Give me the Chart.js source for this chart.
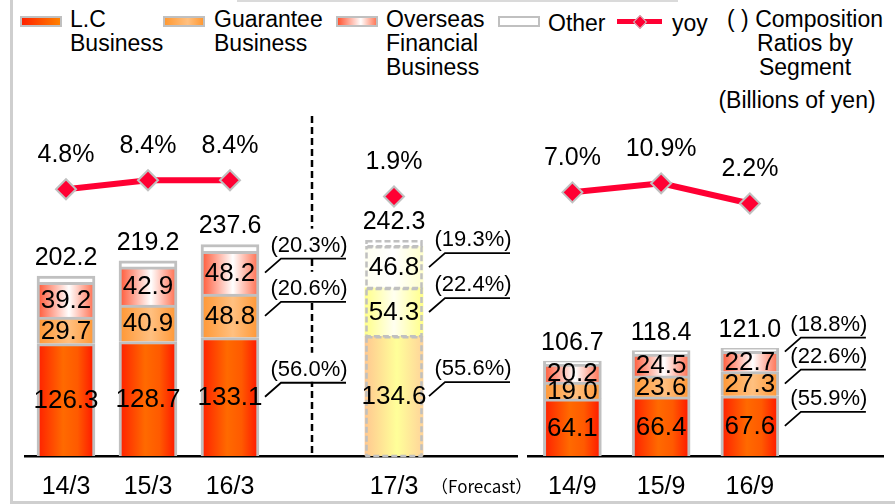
<!DOCTYPE html>
<html>
<head>
<meta charset="utf-8">
<script src="https://cdn.jsdelivr.net/npm/chart.js@4.4.1/dist/chart.umd.min.js"></script>
<style>
  html, body { margin: 0; padding: 0; background: #fff; }
  body { width: 895px; height: 504px; position: relative; overflow: hidden;
         font-family: "Liberation Sans", Arial, sans-serif; color: #000; }
  canvas { position: absolute; left: 0; top: 0; }
  .frame { position: absolute; background: #cfcfcf; }
  .legend { position: absolute; font-size: 23px; line-height: 24px; white-space: nowrap; }
  .swatch { position: absolute; width: 38px; height: 7px; border: 2px solid #c0c0c0; }
</style>
</head>
<body>
<div class="swatch" style="left:20px;top:16px;background:linear-gradient(to right,#ff2200,#ff8000)"></div>
<div class="legend" style="left:70px;top:7px">L.C<br>Business</div>
<div class="swatch" style="left:163px;top:16px;background:linear-gradient(to right,#ff9933,#ffc080 60%,#ff9933)"></div>
<div class="legend" style="left:214px;top:7px">Guarantee<br>Business</div>
<div class="swatch" style="left:336px;top:16px;background:linear-gradient(to right,#ff5533,#fff 60%,#ff7a5a)"></div>
<div class="legend" style="left:386px;top:7px">Overseas<br>Financial<br>Business</div>
<div class="swatch" style="left:498px;top:16px;background:#fff"></div>
<div class="legend" style="left:548px;top:11px">Other</div>
<div style="position:absolute;left:617px;top:19px;width:45px;height:5px;background:#ff0033"></div>
<div style="position:absolute;left:635px;top:17px;width:8px;height:8px;background:#ff0033;border:1px solid #c8c8c8;transform:rotate(45deg)"></div>
<div class="legend" style="left:672px;top:11px">yoy</div>
<div class="legend" style="left:720px;top:7px;width:170px;text-align:center">( ) Composition<br>Ratios by<br>Segment</div>
<div class="legend" style="left:712px;top:88px;width:170px;text-align:center">(Billions of yen)</div>

<canvas id="fyChart" width="895" height="521"></canvas>
<canvas id="halfChart" width="895" height="521"></canvas>

<div class="frame" style="left:10px;top:0;width:3px;height:504px"></div>
<div class="frame" style="left:10px;top:501px;width:885px;height:3px"></div>
<div class="frame" style="left:237px;top:0;width:441px;height:2px;background:#dadada"></div>

<script>
// Fiscal years (March) — 17/3 is the forecast
const fyLabels = ["14/3", "15/3", "16/3", "17/3"];
const fyLC = [126.3, 128.7, 133.1, 134.6];
const fyGuarantee = [29.7, 40.9, 48.8, 54.3];
const fyOverseas = [39.2, 42.9, 48.2, 46.8];
const fyOther = [7.0, 6.7, 7.5, 6.6];
const fyTotal = [202.2, 219.2, 237.6, 242.3];
const fyYoy = [4.8, 8.4, 8.4, 1.9];
const fyRatios16 = [56.0, 20.6, 20.3]; // L.C, Guarantee, Overseas
const fyRatios17 = [55.6, 22.4, 19.3];
const forecastNote = "（Forecast）";

// First halves (September)
const halfLabels = ["14/9", "15/9", "16/9"];
const halfLC = [64.1, 66.4, 67.6];
const halfGuarantee = [19.0, 23.6, 27.3];
const halfOverseas = [20.2, 24.5, 22.7];
const halfOther = [3.4, 3.9, 3.4];
const halfTotal = [106.7, 118.4, 121.0];
const halfYoy = [7.0, 10.9, 2.2];
const halfRatios16 = [55.9, 22.6, 18.8];

const FONT = '"Liberation Sans", Arial, "Noto Sans CJK JP", sans-serif';
const NOTE_FONT = '"Noto Sans CJK JP", sans-serif';
const BAR_W = 58;
const BORDER_GRAY = "#c0c0c0";
const YOY_RED = "#ff0033";

const fills = {
  lc: [[0, "#ff1e00"], [0.45, "#ff6a00"], [0.7, "#ff5a00"], [1, "#ff1400"]],
  guarantee: [[0, "#ff9633"], [0.55, "#ffc080"], [1, "#ff9633"]],
  overseas: [[0, "#ff5533"], [0.55, "#ffffff"], [1, "#ff6a4a"]],
  other: [[0, "#ffffff"], [1, "#ffffff"]]
};
const forecastFills = {
  lc: [[0, "#ffc890"], [0.55, "#ffff99"], [1, "#ffd49a"]],
  guarantee: [[0, "#ffff8a"], [0.5, "#fffff0"], [1, "#ffff8a"]],
  overseas: [[0, "#fffff0"], [0.5, "#ffffff"], [1, "#ffffcc"]],
  other: [[0, "#ffffff"], [1, "#ffffff"]]
};

// 16/3, gap, 17/3, slot for the forecast note
const fySlots = (v) => [v[0], v[1], v[2], null, v[3], null];

function gradientAt(chart, index, stops) {
  const scale = chart.scales.x;
  if (!scale || typeof index !== "number") return stops[1][1];
  const x = scale.getPixelForValue(index);
  if (!Number.isFinite(x)) return stops[1][1];
  const g = chart.ctx.createLinearGradient(x - BAR_W / 2, 0, x + BAR_W / 2, 0);
  stops.forEach(([o, c]) => g.addColorStop(o, c));
  return g;
}

function barSet(label, data, key, forecastIdx) {
  return {
    label,
    data,
    stack: "total",
    order: 1,
    barThickness: BAR_W,
    backgroundColor: (c) =>
      gradientAt(c.chart, c.dataIndex, c.dataIndex === forecastIdx ? forecastFills[key] : fills[key]),
    borderColor: BORDER_GRAY,
    borderWidth: (c) => (c.dataIndex === forecastIdx ? 0 : 3),
    borderSkipped: "start"
  };
}

function yoySet(data) {
  return {
    type: "line",
    label: "yoy",
    data,
    yAxisID: "y2",
    order: 0,
    borderColor: YOY_RED,
    borderWidth: 6,
    pointStyle: "rectRot",
    pointRadius: 10,
    pointBackgroundColor: YOY_RED,
    pointBorderColor: BORDER_GRAY,
    pointBorderWidth: 2,
    spanGaps: false
  };
}

function drawText(ctx, str, x, y, size, family = FONT) {
  ctx.font = `${size}px ${family}`;
  ctx.fillText(str, x, y);
}

function panelPlugin(cfg) {
  return {
    id: "panel",
    beforeDatasetsDraw(chart) {
      if (cfg.dividerSlot == null) return;
      const { ctx, chartArea } = chart;
      const x = chart.scales.x.getPixelForValue(cfg.dividerSlot);
      ctx.save();
      ctx.strokeStyle = "#000";
      ctx.lineWidth = 2.5;
      ctx.setLineDash([7, 4]);
      ctx.beginPath();
      ctx.moveTo(x, 116);
      ctx.lineTo(x, chartArea.bottom);
      ctx.stroke();
      ctx.restore();
    },
    afterDatasetsDraw(chart) {
      const ctx = chart.ctx;
      ctx.save();

      // dashed outline for the forecast bar
      if (cfg.forecastIdx >= 0) {
        ctx.strokeStyle = BORDER_GRAY;
        ctx.lineWidth = 2.5;
        ctx.setLineDash([6, 3]);
        for (let d = 0; d < 4; d++) {
          const el = chart.getDatasetMeta(d).data[cfg.forecastIdx];
          ctx.strokeRect(el.x - el.width / 2 + 1.5, el.y + 1, el.width - 3, el.base - el.y - 1);
        }
        ctx.setLineDash([]);
      }

      ctx.fillStyle = "#000";
      ctx.textAlign = "center";
      ctx.textBaseline = "middle";

      // segment values
      for (let d = 0; d < 3; d++) {
        const ds = chart.data.datasets[d];
        chart.getDatasetMeta(d).data.forEach((el, i) => {
          if (ds.data[i] == null) return;
          drawText(ctx, ds.data[i].toFixed(1), el.x, (el.y + el.base) / 2 + 1, 26);
        });
      }

      // totals above the stack
      const topMeta = chart.getDatasetMeta(3).data;
      cfg.totals.forEach((t, i) => {
        if (t == null) return;
        drawText(ctx, t.toFixed(1), topMeta[i].x, topMeta[i].y - 18, 25);
      });

      // yoy labels
      const yoyDs = chart.data.datasets[4];
      chart.getDatasetMeta(4).data.forEach((pt, i) => {
        if (yoyDs.data[i] == null) return;
        drawText(ctx, yoyDs.data[i].toFixed(1) + "%", pt.x, pt.y - 34, 25);
      });

      // composition ratio callouts
      cfg.callouts.forEach(({ slot, ratios }) => {
        const els = [0, 1, 2].map((d) => chart.getDatasetMeta(d).data[slot]);
        const right = els[0].x + els[0].width / 2;
        const ys = els.map((el) => (el.y + el.base) / 2);
        for (let k = 1; k < ys.length; k++) {
          if (ys[k - 1] - ys[k] < 32) ys[k] = ys[k - 1] - 32;
        }
        ys.forEach((y, k) => {
          const hy = y - 14;
          ctx.fillStyle = "#fff";
          ctx.fillRect(right + 9, hy - 30, 84, 29);
          ctx.strokeStyle = "#000";
          ctx.lineWidth = 1.8;
          ctx.beginPath();
          ctx.moveTo(right + 6, y);
          ctx.lineTo(right + 22, hy);
          ctx.lineTo(right + 87, hy);
          ctx.stroke();
          ctx.fillStyle = "#000";
          drawText(ctx, `(${ratios[k].toFixed(1)}%)`, right + 50, hy - 13, 22);
        });
      });

      ctx.restore();
    },
    afterDraw(chart) {
      if (cfg.noteSlot == null) return;
      // the forecast note sits beside 17/3, a little past the end of the axis
      const ctx = chart.ctx;
      const x = chart.scales.x.getPixelForValue(cfg.noteSlot) - 45;
      ctx.save();
      ctx.fillStyle = "#000";
      ctx.textAlign = "left";
      ctx.textBaseline = "middle";
      drawText(ctx, forecastNote, x, chart.chartArea.bottom + 31, 17, NOTE_FONT);
      ctx.restore();
    }
  };
}

function xAxis() {
  return {
    stacked: true,
    grid: { display: false, drawTicks: false },
    border: { display: true, color: "#000", width: 2.5 },
    ticks: {
      color: "#000",
      font: { family: FONT, size: 25 },
      padding: 16,
      autoSkip: false,
      maxRotation: 0
    }
  };
}

const common = {
  responsive: false,
  animation: false,
  events: [],
  plugins: { legend: { display: false }, tooltip: { enabled: false } }
};

new Chart(document.getElementById("fyChart"), {
  type: "bar",
  data: {
    labels: [fyLabels[0], fyLabels[1], fyLabels[2], "", fyLabels[3], ""],
    datasets: [
      barSet("L.C Business", fySlots(fyLC), "lc", 4),
      barSet("Guarantee Business", fySlots(fyGuarantee), "guarantee", 4),
      barSet("Overseas Financial Business", fySlots(fyOverseas), "overseas", 4),
      barSet("Other", fySlots(fyOther), "other", 4),
      yoySet(fySlots(fyYoy))
    ]
  },
  options: {
    ...common,
    layout: { padding: { left: 25, right: 378, top: 100, bottom: 3 } },
    scales: {
      x: xAxis(),
      y: { stacked: true, display: false, min: 0, max: 400 },
      y2: { display: false, min: -101.6, max: 40.4 }
    }
  },
  plugins: [panelPlugin({
    forecastIdx: 4,
    dividerSlot: 3,
    noteSlot: 5,
    totals: fySlots(fyTotal),
    callouts: [{ slot: 2, ratios: fyRatios16 }, { slot: 4, ratios: fyRatios17 }]
  })]
});

new Chart(document.getElementById("halfChart"), {
  type: "bar",
  data: {
    labels: [...halfLabels, ""],
    datasets: [
      barSet("L.C Business", halfLC, "lc", -1),
      barSet("Guarantee Business", halfGuarantee, "guarantee", -1),
      barSet("Overseas Financial Business", halfOverseas, "overseas", -1),
      barSet("Other", halfOther, "other", -1),
      yoySet(halfYoy)
    ]
  },
  options: {
    ...common,
    layout: { padding: { left: 528, right: 0, top: 100, bottom: 3 } },
    scales: {
      x: xAxis(),
      y: { stacked: true, display: false, min: 0, max: 400 },
      y2: { display: false, min: -106.9, max: 46.9 }
    }
  },
  plugins: [panelPlugin({
    forecastIdx: -1,
    dividerSlot: null,
    noteSlot: null,
    totals: halfTotal,
    callouts: [{ slot: 2, ratios: halfRatios16 }]
  })]
});
</script>
</body>
</html>
